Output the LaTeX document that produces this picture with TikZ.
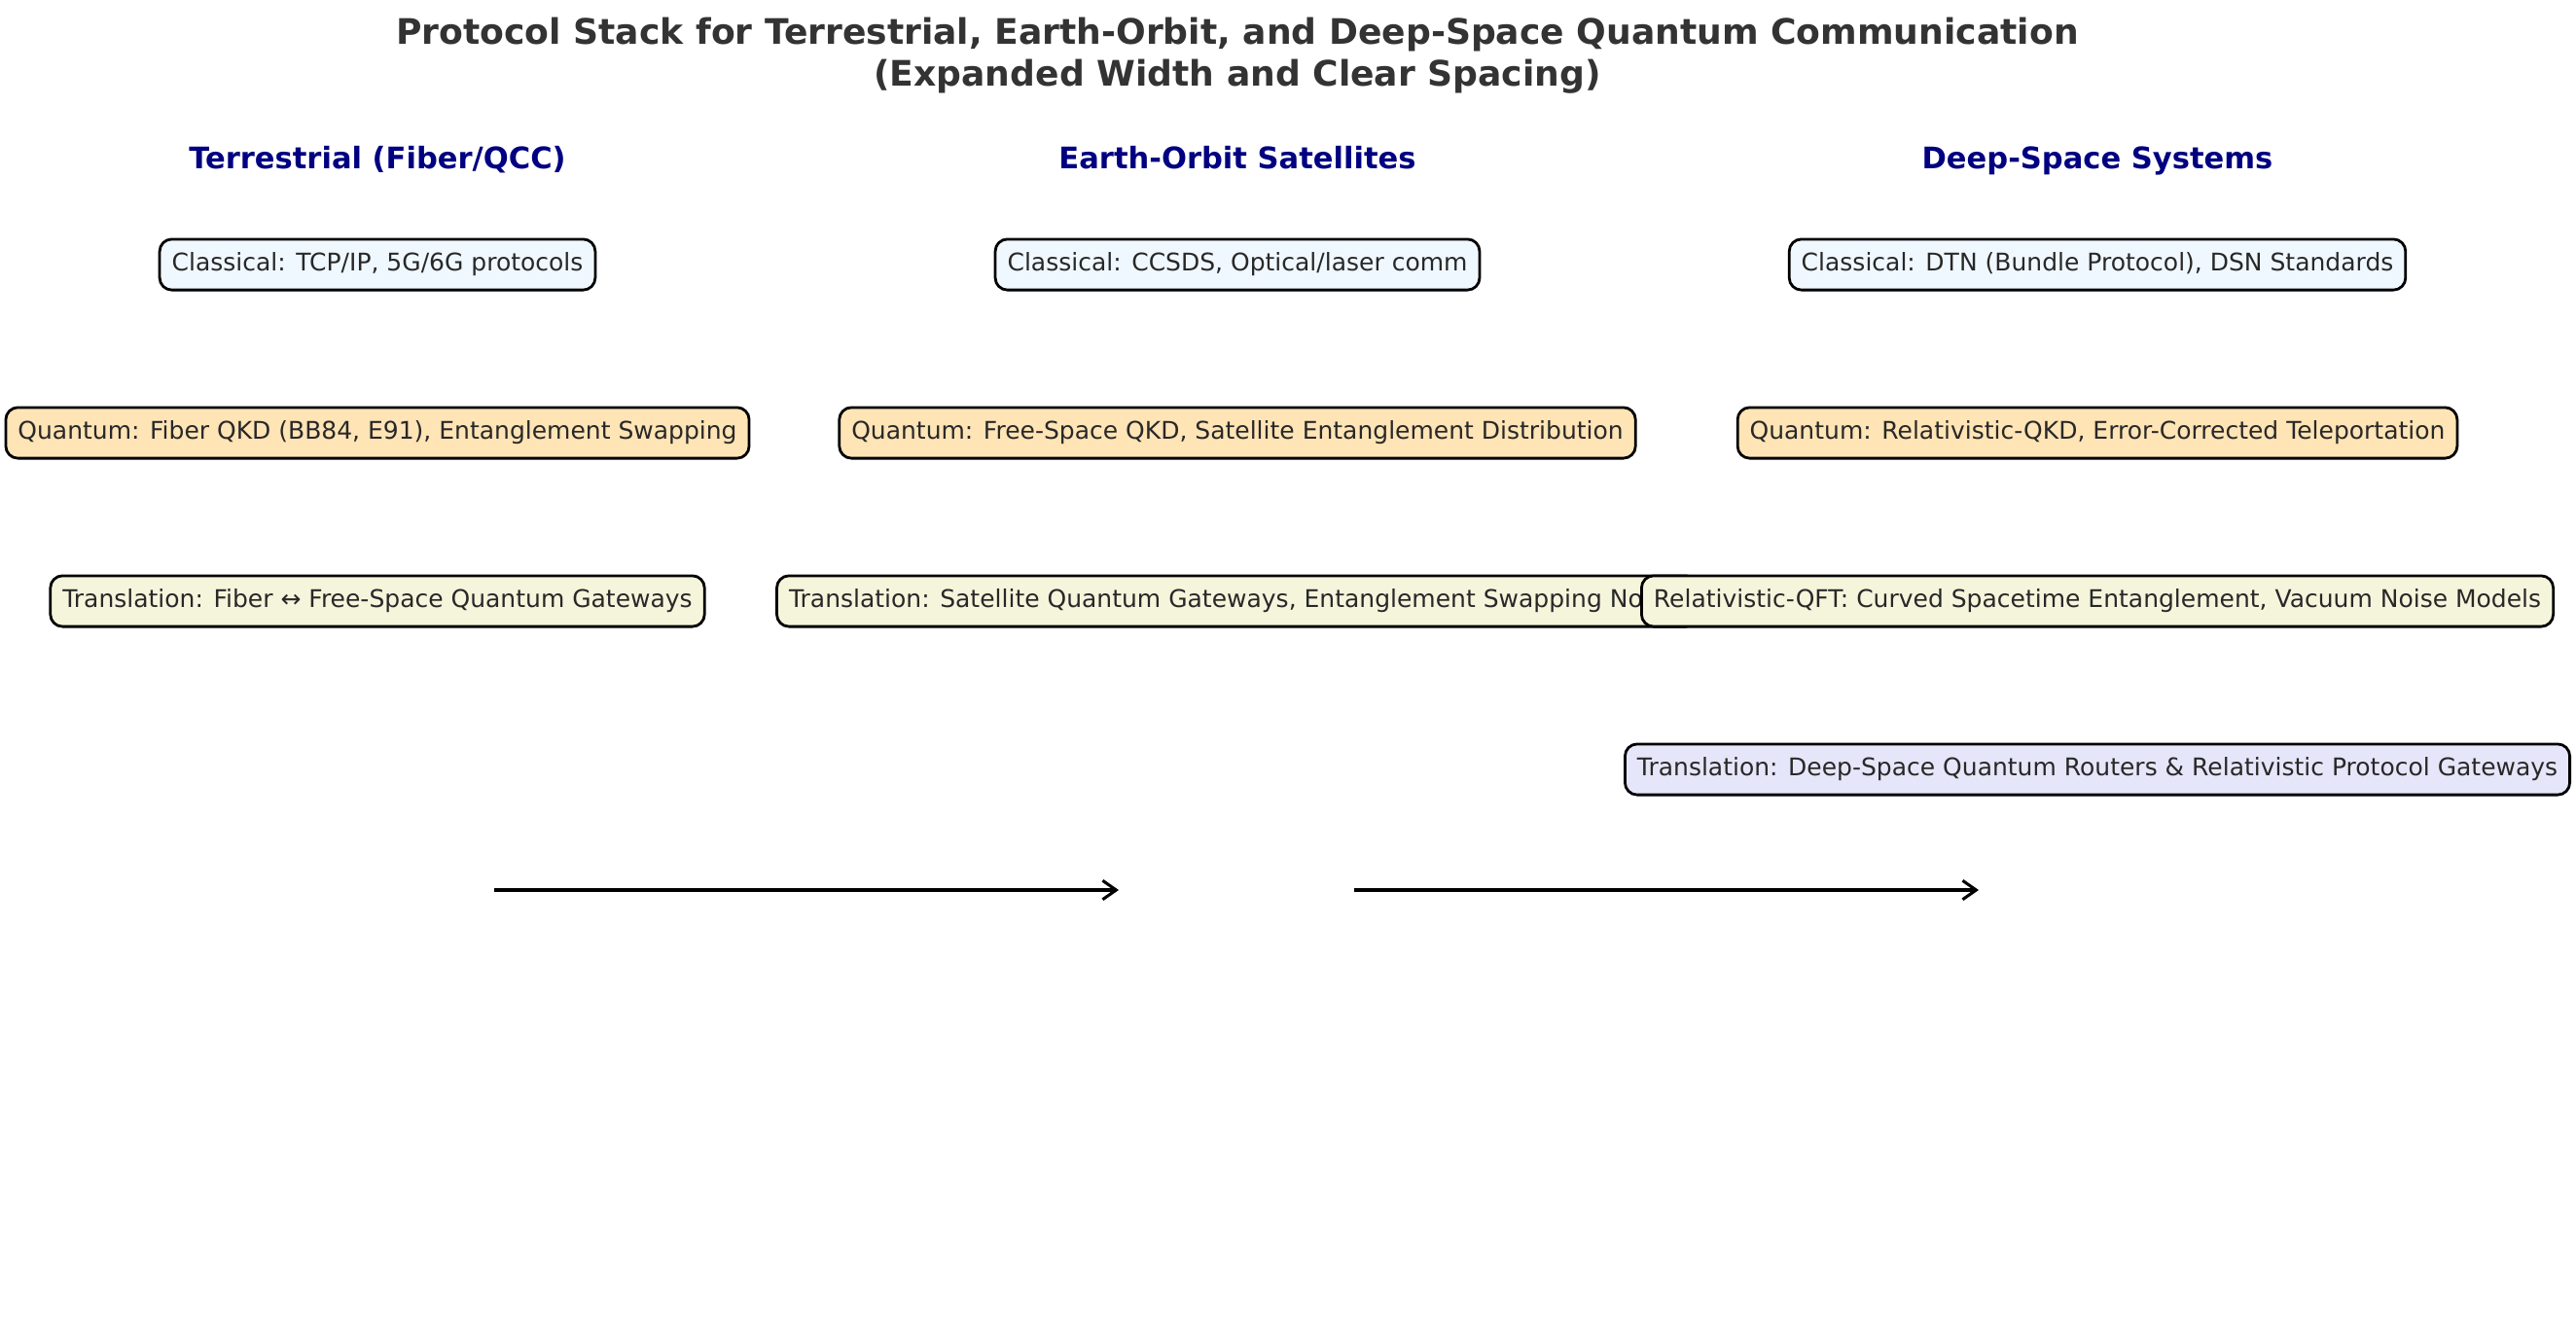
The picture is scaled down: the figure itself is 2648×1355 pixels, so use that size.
\documentclass[tikz,border=0pt]{standalone}
\usepackage{fontspec}
\setmainfont{DejaVu Sans}
\usetikzlibrary{arrows.meta}
\definecolor{headnavy}{RGB}{0,0,128}
\definecolor{titlegray}{RGB}{51,51,51}
\definecolor{boxtext}{RGB}{40,40,40}
\definecolor{classfill}{HTML}{F0F8FF}
\definecolor{quantfill}{HTML}{FFE4B5}
\definecolor{transfill}{HTML}{F5F5DC}
\definecolor{deepfill}{HTML}{E6E6FA}
\tikzset{
  layerbox/.style={draw=black, line width=1bp, rounded corners=4.5bp,
    inner xsep=4.5bp, inner ysep=4.7bp, text height=7.2bp, text depth=2.2bp,
    text=boxtext, font=\fontsize{9bp}{11bp}\selectfont},
  colhead/.style={text=headnavy, text height=8.4bp, text depth=2.6bp,
    font=\bfseries\fontsize{11bp}{13bp}\selectfont},
  flow/.style={-{Straight Barb[length=5bp,width=7bp]}, line width=1.1bp}
}

\begin{document}
\begin{tikzpicture}[x=0.36bp, y=-0.36bp]
		%%%%% START %%%%%
		\useasboundingbox (0, 0) rectangle (2648, 1355);
		
		\node[align=center, text=titlegray, font=\bfseries\fontsize{13bp}{15.6bp}\selectfont] (title) at (1272, 57)
			{Protocol Stack for Terrestrial, Earth-Orbit, and Deep-Space Quantum Communication\\(Expanded Width and Clear Spacing)};
		
		% column heads
		\node[colhead] (headT) at (388, 165) {Terrestrial (Fiber/QCC)};
		\node[colhead] (headE) at (1272, 165) {Earth-Orbit Satellites};
		\node[colhead] (headD) at (2156, 165) {Deep-Space Systems};
		
		% terrestrial
		\node[layerbox, fill=classfill] (classT) at (388, 272) {Classical: TCP/IP, 5G/6G protocols};
		\node[layerbox, fill=quantfill] (quantT) at (388, 445) {Quantum: Fiber QKD (BB84, E91), Entanglement Swapping};
		\node[layerbox, fill=transfill] (transT) at (388, 618) {Translation: Fiber ↔ Free-Space Quantum Gateways};
		
		% earth orbit
		\node[layerbox, fill=classfill] (classE) at (1272, 272) {Classical: CCSDS, Optical/laser comm};
		\node[layerbox, fill=quantfill] (quantE) at (1272, 445) {Quantum: Free-Space QKD, Satellite Entanglement Distribution};
		\node[layerbox, fill=transfill] (transE) at (1272, 618) {Translation: Satellite Quantum Gateways, Entanglement Swapping Nodes};
		
		% deep space
		\node[layerbox, fill=classfill] (classD) at (2156, 272) {Classical: DTN (Bundle Protocol), DSN Standards};
		\node[layerbox, fill=quantfill] (quantD) at (2156, 445) {Quantum: Relativistic-QKD, Error-Corrected Teleportation};
		\node[layerbox, fill=transfill] (qftD) at (2156, 618) {Relativistic-QFT: Curved Spacetime Entanglement, Vacuum Noise Models};
		\node[layerbox, fill=deepfill] (transD) at (2156, 791) {Translation: Deep-Space Quantum Routers \& Relativistic Protocol Gateways};
		
		% arrows
		\coordinate (flowA0) at (508, 915);
		\coordinate (flowA1) at (1150, 915);
		\coordinate (flowB0) at (1392, 915);
		\coordinate (flowB1) at (2034, 915);
		\draw[flow] (flowA0) -- (flowA1);
		\draw[flow] (flowB0) -- (flowB1);
		
		%%%%% END %%%%%
\end{tikzpicture}
\end{document}
